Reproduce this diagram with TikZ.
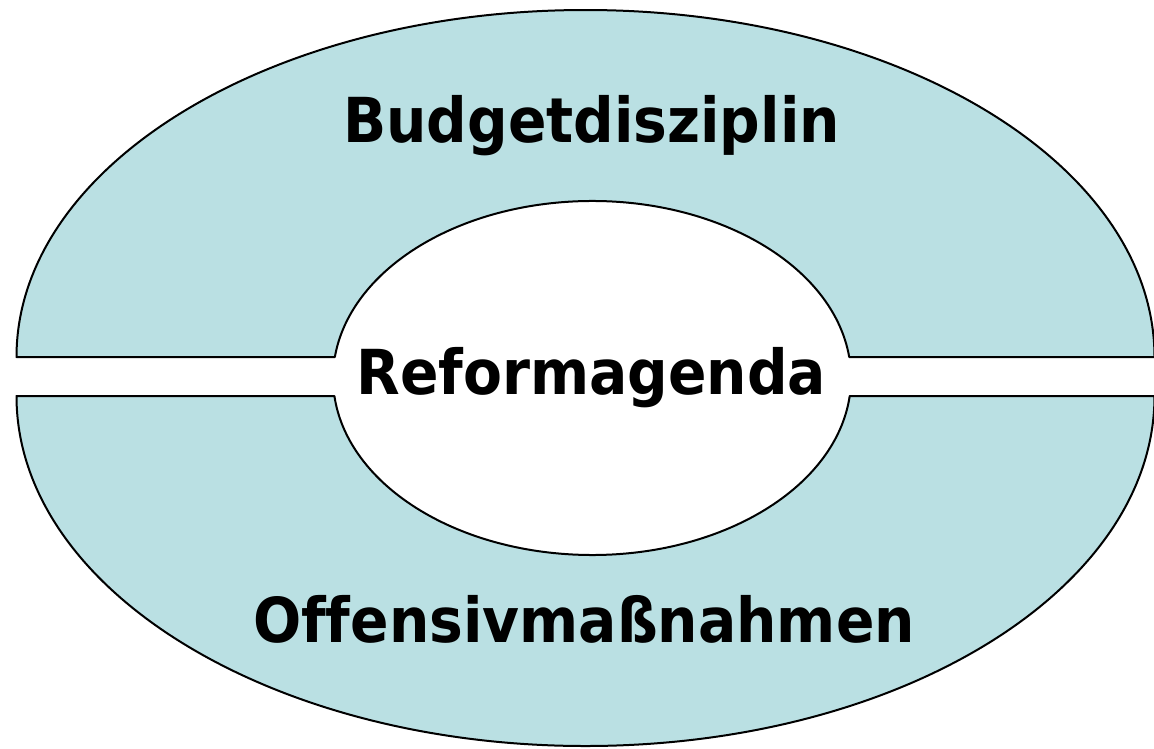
\documentclass[tikz,border=0pt]{standalone}
\usepackage{fontspec}
\newfontfamily\labelfont{DejaVu Sans}[FakeStretch=0.915, Ligatures=CommonOff]
\definecolor{ringblue}{RGB}{186,224,227}
\tikzset{
  ring/.style={fill=ringblue, draw=black, line width=2pt, line join=round},
  label/.style={font=\labelfont\bfseries\fontsize{62}{64}\selectfont, text=black, inner sep=0pt, anchor=base},
}
\begin{document}
\begin{tikzpicture}[x=1pt,y=-1pt]
\useasboundingbox (0,0) rectangle (1154,748);
\clip (0,0) rectangle (1154,748);
% upper half ring
\path[ring] (16.5,357) arc[start angle=180, end angle=360, x radius=569, y radius=347]
  -- (849.2,357) arc[start angle=-6.81, end angle=-173.19, x radius=259, y radius=177] -- cycle;
% lower half ring
\path[ring] (16.5,396) arc[start angle=180, end angle=0, x radius=569, y radius=350]
  -- (849.7,396) arc[start angle=5.84, end angle=174.16, x radius=259, y radius=177] -- cycle;
\node[label] (top) at (591.5,142) {Budgetdisziplin};
\node[label] (mid) at (591.5,394) {Reformagenda};
\node[label] (bot) at (584,642) {Offensivmaßnahmen};
\end{tikzpicture}
\end{document}
